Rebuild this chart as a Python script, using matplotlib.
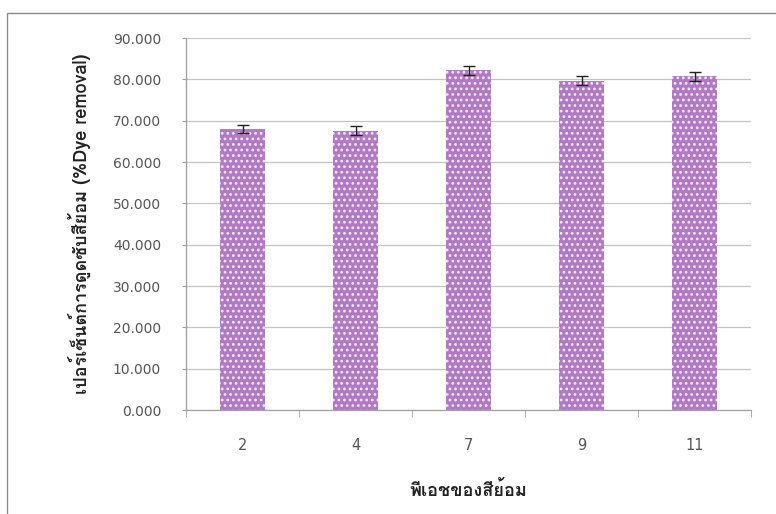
import numpy as np
import matplotlib
matplotlib.use("Agg")
import matplotlib.pyplot as plt
from matplotlib import font_manager
from matplotlib.ft2font import FT2Font
from matplotlib.patches import Rectangle

# data
ph_labels = ["2", "4", "7", "9", "11"]
dye_removal = [68.0, 67.6, 82.2, 79.7, 80.7]
dye_error = [1.0, 1.0, 1.1, 1.05, 1.05]
y_ticks = [0, 10, 20, 30, 40, 50, 60, 70, 80, 90]

x_title = "พีเอชของสีย้อม"
y_title = "เปอร์เซ็นต์การดูดซับสีย้อม (%Dye removal)"


def find_thai_family():
    """First installed family that has Thai glyphs, if any."""
    for fe in font_manager.fontManager.ttflist:
        try:
            if 0x0E1E in FT2Font(fe.fname).get_charmap():
                return fe.name
        except Exception:
            continue
    return None


thai = find_thai_family()
tick_fonts = ["DejaVu Sans"]
title_fonts = [thai, "DejaVu Sans"] if thai else ["DejaVu Sans"]
plt.rcParams["font.family"] = tick_fonts
plt.rcParams["hatch.color"] = "#f3e6f6"
plt.rcParams["hatch.linewidth"] = 1.2

fig = plt.figure(figsize=(7.76, 5.14), dpi=100)
ax = fig.add_axes([0.2397, 0.2023, 0.7281, 0.7237])

# outer chart frame, cut off at right and bottom like the scan
fig.patches.append(Rectangle((7 / 776, -0.05), 1.1, 0.05 + 1 - 13 / 514,
                             transform=fig.transFigure, fill=False,
                             edgecolor="#8a8a8a", linewidth=1.0, zorder=0))

x = np.arange(len(ph_labels))
ax.bar(x, dye_removal, width=0.4, color="#b07ac2", edgecolor="#f3e6f6",
       linewidth=0, hatch="...", zorder=2)
ax.errorbar(x, dye_removal, yerr=dye_error, fmt="none", ecolor="#222222",
            elinewidth=1.0, capsize=4, capthick=1.0, zorder=3)

ax.set_xlim(-0.5, len(ph_labels) - 0.5)
ax.set_ylim(0, 90)
ax.set_yticks(y_ticks)
ax.set_yticklabels([f"{v:.3f}" for v in y_ticks])
ax.set_xticks(x)
ax.set_xticklabels(ph_labels)
ax.set_xticks(np.arange(-0.5, len(ph_labels)), minor=True)

ax.grid(axis="y", color="#c4c4c4", linewidth=0.9, zorder=0)
ax.set_axisbelow(True)
for side in ["top", "right"]:
    ax.spines[side].set_visible(False)
for side in ["left", "bottom"]:
    ax.spines[side].set_color("#a0a0a0")
    ax.spines[side].set_linewidth(0.9)

ax.tick_params(axis="y", length=3, color="#a0a0a0", labelsize=10,
               labelcolor="#555555", pad=15)
ax.tick_params(axis="x", which="major", length=0, labelsize=10.5,
               labelcolor="#555555", pad=20)
ax.tick_params(axis="x", which="minor", length=5, color="#a0a0a0")

ax.set_xlabel(x_title, fontsize=13, fontweight="bold", color="#222222",
              labelpad=20, family=title_fonts)
ax.set_ylabel(y_title, fontsize=13, fontweight="bold", color="#222222",
              labelpad=16, family=title_fonts)

fig.savefig("out.png", dpi=100)
